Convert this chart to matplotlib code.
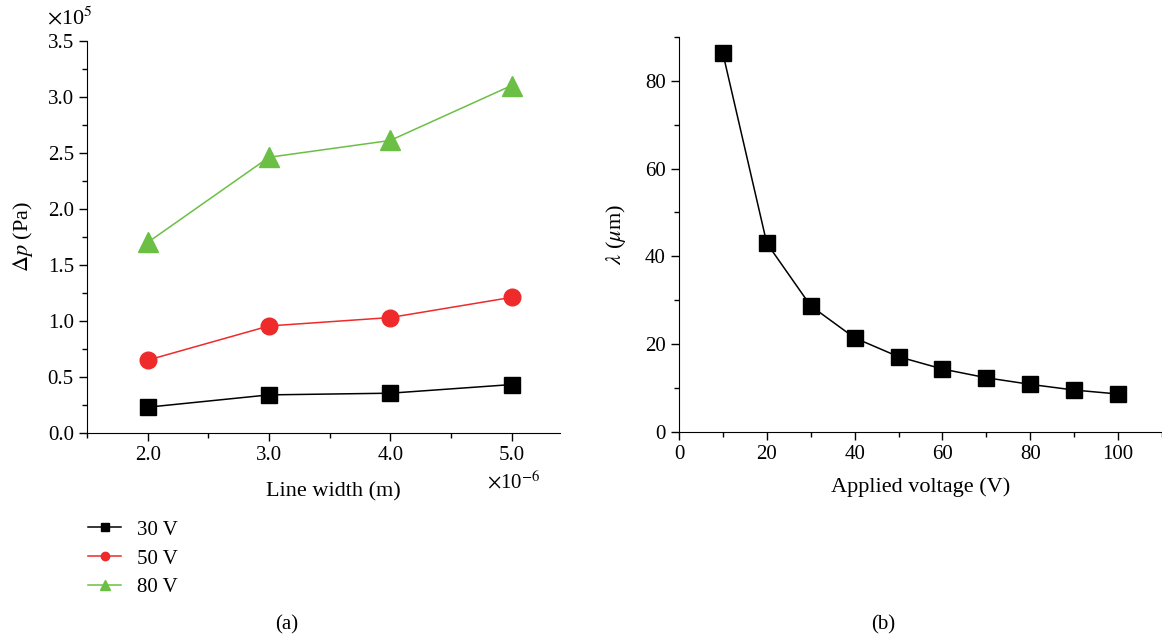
import matplotlib
matplotlib.use("Agg")
import matplotlib.pyplot as plt
from matplotlib.ticker import MultipleLocator, FormatStrFormatter
from matplotlib.lines import Line2D

# panel (a): pressure drop vs line width
line_width = [2.0, 3.0, 4.0, 5.0]          # x 1e-6 m
dp_30v = [0.23, 0.34, 0.355, 0.432]         # x 1e5 Pa
dp_50v = [0.65, 0.955, 1.03, 1.21]
dp_80v = [1.70, 2.46, 2.61, 3.10]
series_labels = ["30 V", "50 V", "80 V"]

# panel (b): wavelength vs voltage
voltage = [10, 20, 30, 40, 50, 60, 70, 80, 90, 100]
wavelength = [86.3, 43.0, 28.7, 21.4, 17.1, 14.3, 12.3, 10.8, 9.5, 8.6]

plt.rcParams["font.family"] = ["Liberation Serif", "DejaVu Serif"]
plt.rcParams["mathtext.fontset"] = "stix"
plt.rcParams["font.size"] = 15

GREEN = "#6cbf45"
RED = "#ee2a2a"

fig = plt.figure(figsize=(11.62, 6.39), dpi=100)
ax1 = fig.add_axes([0.0749, 0.3224, 0.4071, 0.6139])
ax2 = fig.add_axes([0.5843, 0.3244, 0.4157, 0.6176])

for ax in (ax1, ax2):
    ax.spines["top"].set_visible(False)
    ax.spines["right"].set_visible(False)
    ax.tick_params(which="major", direction="out", length=6, width=1, labelsize=15)
    ax.tick_params(which="minor", direction="out", length=3.5, width=1)

# ---- (a) ----
ax1.plot(line_width, dp_30v, color="black", lw=1.1, marker="s", ms=12, label=series_labels[0])
ax1.plot(line_width, dp_50v, color=RED, lw=1.1, marker="o", ms=12, label=series_labels[1])
ax1.plot(line_width, dp_80v, color=GREEN, lw=1.1, marker="^", ms=14, label=series_labels[2])
ax1.set_xlim(1.5, 5.4)
ax1.set_ylim(0, 3.5)
ax1.xaxis.set_major_locator(MultipleLocator(1.0))
ax1.xaxis.set_minor_locator(MultipleLocator(0.5))
ax1.yaxis.set_major_locator(MultipleLocator(0.5))
ax1.yaxis.set_minor_locator(MultipleLocator(0.25))
ax1.xaxis.set_major_formatter(FormatStrFormatter("%.1f"))
ax1.yaxis.set_major_formatter(FormatStrFormatter("%.1f"))
ax1.set_xlabel("Line width (m)", fontsize=16)
ax1.xaxis.set_label_coords(0.52, -0.125)
ax1.set_ylabel(r"$\Delta p$ (Pa)", fontsize=16)
ax1.yaxis.set_label_coords(-0.11, 0.5)
fig.text(47 / 1162, 1 - 18 / 639, r"$\times$10$^{5}$", fontsize=16, va="center", ha="left")
fig.text(514 / 1162, 1 - 482 / 639, r"$\times$10$^{-6}$", fontsize=15, va="center", ha="center")

handles = [
    Line2D([], [], color="black", lw=1.1, marker="s", ms=6),
    Line2D([], [], color=RED, lw=1.1, marker="o", ms=6),
    Line2D([], [], color=GREEN, lw=1.1, marker="^", ms=7),
]
fig.legend(handles, series_labels, loc="upper left",
           bbox_to_anchor=(88 / 1162, 1 - 520 / 639), frameon=False,
           handlelength=1.6, handletextpad=0.75, labelspacing=0.45, fontsize=15,
           borderaxespad=0, borderpad=0)

# ---- (b) ----
ax2.plot(voltage, wavelength, color="black", lw=1.1, marker="s", ms=12)
ax2.set_xlim(0, 110)
ax2.set_ylim(0, 90)
ax2.xaxis.set_major_locator(MultipleLocator(20))
ax2.xaxis.set_minor_locator(MultipleLocator(10))
ax2.yaxis.set_major_locator(MultipleLocator(20))
ax2.yaxis.set_minor_locator(MultipleLocator(10))
ax2.set_xlabel("Applied voltage (V)", fontsize=16)
ax2.xaxis.set_label_coords(0.5, -0.115)
ax2.set_ylabel(r"$\lambda$ ($\mu$m)", fontsize=16)
ax2.yaxis.set_label_coords(-0.105, 0.5)

fig.text(287 / 1162, 1 - 625 / 639, "(a)", fontsize=15, ha="center", va="center")
fig.text(883 / 1162, 1 - 625 / 639, "(b)", fontsize=15, ha="center", va="center")

fig.savefig("out.png", dpi=100)
